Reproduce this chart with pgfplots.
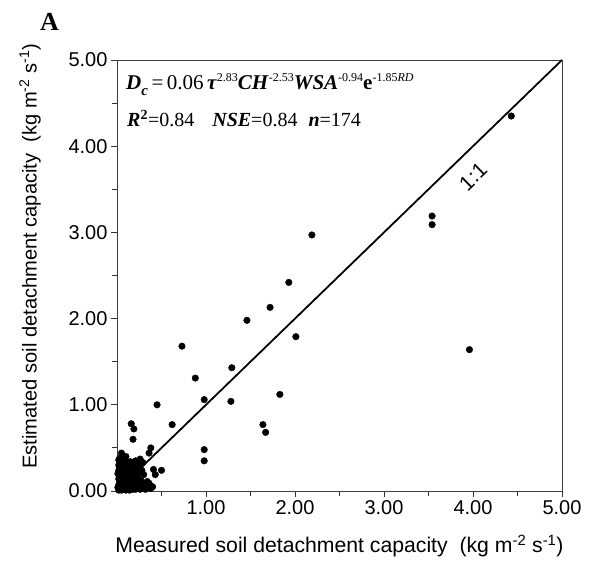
\documentclass[border=0pt]{standalone}
\usepackage{pgfplots}
\pgfplotsset{compat=1.18}
\usepackage{fontspec}
\setmainfont{Liberation Sans}
\newfontfamily\serif{Liberation Serif}
\newcommand\sups[1]{\raisebox{0.42em}{\fontsize{12}{12}\selectfont #1}}
\newcommand\bi[1]{\textbf{\textit{#1}}}
\begin{document}
\begin{tikzpicture}
\begin{axis}[
  at={(0,0)}, anchor=south west,
  scale only axis, width=445pt, height=431pt,
  xmin=0, xmax=5, ymin=0, ymax=5,
  axis line style={black!75, line width=0.8pt},
  xtick={1,2,3,4,5}, ytick={0,1,2,3,4,5},
  minor xtick={0.5,1.5,2.5,3.5,4.5}, minor ytick={0.5,1.5,2.5,3.5,4.5},
  tick align=outside, xtick pos=bottom, ytick pos=left,
  major tick length=6pt, minor tick length=5pt,
  every tick/.style={black!80, line width=0.8pt},
  /pgf/number format/.cd, fixed, fixed zerofill, precision=2, assume math mode=true, /pgfplots/.cd,
  ticklabel style={font=\fontsize{20}{24}\selectfont},
  xlabel={Measured soil detachment capacity\ \ (kg m\textsuperscript{-2} s\textsuperscript{-1})},
  ylabel={Estimated soil detachment capacity\ \ (kg m\textsuperscript{-2} s\textsuperscript{-1})},
  xlabel style={font=\fontsize{21.2}{25}\selectfont, at={(axis description cs:0.5,-0.1276)}, anchor=center},
  ylabel style={font=\fontsize{20.1}{24}\selectfont, at={(axis description cs:-0.1955,0.545)}, anchor=center},
]
\addplot[black, line width=1.8pt] coordinates {(0,0) (5,5)};
\addplot[only marks, mark=*, mark size=3.3pt, black] coordinates {
(4.43,4.35) (3.54,3.19) (3.54,3.09) (3.96,1.64) (2.19,2.97) (1.93,2.42) (1.72,2.13) (1.46,1.98) (2.01,1.79) (0.73,1.68) (1.29,1.43) (0.88,1.31) (0.98,1.06) (1.28,1.04) (1.83,1.12) (1.64,0.77) (1.67,0.68) (0.98,0.48) (0.98,0.35) (0.45,1.00) (0.62,0.77) (0.16,0.78) (0.19,0.72) (0.18,0.60) (0.38,0.50) (0.36,0.44) (0.41,0.25) (0.43,0.19) (0.50,0.24) (0.33,0.07) (0.36,0.09)
(0.02,0.01) (0.03,0.05) (0.04,0.02) (0.05,0.08) (0.06,0.03) (0.07,0.11) (0.08,0.05) (0.09,0.02) (0.10,0.07) (0.11,0.12) (0.12,0.04) (0.13,0.09) (0.14,0.01) (0.15,0.06) (0.16,0.10) (0.17,0.03) (0.18,0.08) (0.19,0.13) (0.20,0.05) (0.21,0.02) (0.22,0.09) (0.24,0.04) (0.25,0.11) (0.27,0.06) (0.29,0.03) (0.31,0.08) (0.33,0.05) (0.34,0.11)
(0.02,0.14) (0.03,0.18) (0.04,0.22) (0.05,0.16) (0.06,0.25) (0.07,0.19) (0.08,0.15) (0.09,0.21) (0.10,0.17) (0.11,0.24) (0.12,0.14) (0.13,0.19) (0.14,0.23) (0.15,0.16) (0.16,0.20) (0.17,0.27) (0.18,0.17) (0.20,0.22) (0.22,0.18) (0.23,0.26) (0.25,0.21) (0.26,0.30) (0.28,0.24) (0.30,0.19)
(0.02,0.30) (0.04,0.33) (0.05,0.28) (0.03,0.38) (0.06,0.41) (0.09,0.36) (0.08,0.29) (0.11,0.31) (0.13,0.28) (0.15,0.34) (0.19,0.31) (0.21,0.35) (0.24,0.33) (0.26,0.37) (0.29,0.33) (0.23,0.29)
(0.01,0.04) (0.02,0.07) (0.03,0.10) (0.04,0.12) (0.05,0.01) (0.06,0.13) (0.07,0.06) (0.08,0.10) (0.09,0.14) (0.10,0.01) (0.11,0.05) (0.12,0.10) (0.13,0.02) (0.14,0.13) (0.15,0.03) (0.16,0.05) (0.17,0.14) (0.18,0.02) (0.19,0.06) (0.20,0.11) (0.21,0.15) (0.22,0.03) (0.23,0.07) (0.24,0.14) (0.26,0.02) (0.27,0.12) (0.28,0.08) (0.30,0.04) (0.32,0.02) (0.36,0.06) (0.38,0.03) (0.40,0.05)
(0.01,0.20) (0.02,0.24) (0.03,0.27) (0.04,0.06) (0.05,0.20) (0.06,0.09) (0.07,0.23) (0.08,0.19) (0.09,0.08) (0.10,0.27) (0.11,0.09) (0.12,0.21) (0.13,0.25) (0.14,0.07) (0.15,0.22) (0.16,0.14) (0.17,0.09) (0.18,0.24) (0.19,0.18) (0.20,0.15) (0.02,0.36) (0.07,0.32) (0.10,0.40) (0.05,0.44)
};
\node[rotate=44, font=\fontsize{21}{24}\selectfont] at (axis cs:4.0,3.646) {1:1};
\end{axis}
\node[anchor=base west, inner sep=0pt, font=\serif\fontsize{21}{24}\selectfont] at (9pt,401pt)
  {\bi{D}\raisebox{-0.28em}{\fontsize{15}{15}\selectfont\bi{c}}\,=\,0.06\,\bi{τ}\sups{2.83}\bi{CH}\sups{-2.53}\bi{WSA}\sups{-0.94}\textbf{e}\sups{-1.85\textit{RD}}};
\node[anchor=base west, inner sep=0pt, font=\serif\fontsize{20}{24}\selectfont] at (10pt,364pt)
  {\bi{R}\textsuperscript{\textbf{2}}=0.84\hspace{18pt}\bi{NSE}=0.84\hspace{11pt}\bi{n}=174};
\node[font=\serif\bfseries\fontsize{26}{30}\selectfont] at (-67.5pt,469.5pt) {A};
\pgfresetboundingbox
\path (-117pt,-71pt) rectangle (475pt,491pt);
\end{tikzpicture}
\end{document}
